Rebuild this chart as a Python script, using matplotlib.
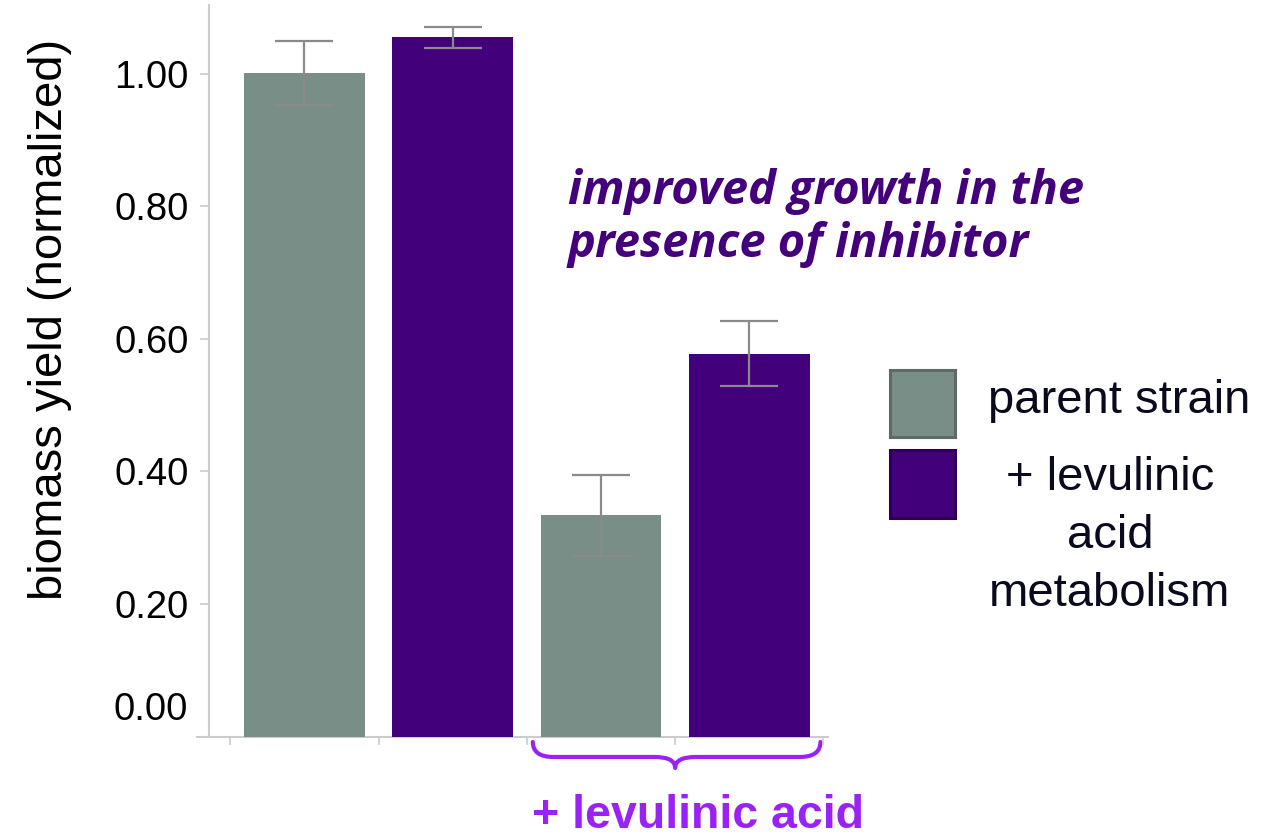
import matplotlib
matplotlib.use("Agg")
import matplotlib.pyplot as plt
from matplotlib.patches import Rectangle, PathPatch
from matplotlib.path import Path
from matplotlib.transforms import blended_transform_factory

plt.rcParams['font.family'] = ['Liberation Sans', 'DejaVu Sans']

# data
groups = ["parent strain", "+ levulinic\nacid\nmetabolism"]
positions = [0, 1, 2, 3]
yields = [1.001, 1.055, 0.334, 0.578]
errors = [0.048, 0.016, 0.061, 0.049]
bar_group = [0, 1, 0, 1]
yticks = [0.2, 0.4, 0.6, 0.8, 1.0]

colors = ['#798e87', '#42007a']
edge_colors = ['#5b6b65', '#2d0058']
W, H = 1276, 839


def px(x, y):
    # figure pixel -> figure fraction
    return x / W, 1 - y / H


fig = plt.figure(figsize=(W / 100, H / 100), dpi=100)
ax = fig.add_axes([209 / W, 1 - 736.5 / H, 619 / W, 731.5 / H])

ax.bar(positions, yields, width=0.815, color=[colors[g] for g in bar_group], zorder=2)
ax.errorbar(positions, yields, yerr=errors, fmt='none', ecolor='#8a8a8a',
            elinewidth=1.6, capsize=21, capthick=1.6, zorder=3)

ax.set_xlim(-0.644, 3.531)
ax.set_ylim(0, 1.104)

ax.set_yticks(yticks)
ax.set_yticklabels([f"{v:.2f}" for v in yticks], fontsize=27.5)
ax.set_xticks([p - 0.5 for p in positions] + [positions[-1] + 0.5])
ax.set_xticklabels([])
ax.tick_params(axis='y', length=6.5, width=1.2, color='#cccccc', pad=8)
ax.tick_params(axis='x', length=6, width=1.2, color='#cccccc')
for s in ['top', 'right']:
    ax.spines[s].set_visible(False)
ax.spines['left'].set_color('#cccccc')
ax.spines['left'].set_linewidth(1.5)
ax.spines['bottom'].set_visible(False)
ax.plot([-0.02, 1.0], [0, 0], transform=ax.transAxes, color='#cccccc',
        lw=1.5, clip_on=False, zorder=1)

# zero label sits a bit above the baseline in the original
ax.text(-0.034, 0.04, "0.00", fontsize=27.5, ha='right', va='center',
        transform=blended_transform_factory(ax.transAxes, ax.transData))

ax.set_ylabel("biomass yield (normalized)", fontsize=34)
ax.yaxis.set_label_coords(-0.222, 0.57)

# annotation
ax.text(1.777, 0.782, "improved growth in the\npresence of inhibitor",
        family='Open Sans', fontweight='bold', style='italic', fontsize=33.8,
        color='#44007c', ha='left', va='center', linespacing=1.17)

# brace under the inhibitor group
bt = blended_transform_factory(ax.transData, ax.transAxes)
x0, x1, xc = 1.54, 3.48, 2.5
r = 0.14
yt, ym, yb = -0.0075, -0.028, -0.043
verts = [(x0, yt), (x0, ym), (x0 + r, ym), (xc - r, ym), (xc, ym), (xc, yb),
         (xc, ym), (xc + r, ym), (x1 - r, ym), (x1, ym), (x1, yt)]
codes = [Path.MOVETO, Path.CURVE3, Path.CURVE3, Path.LINETO, Path.CURVE3, Path.CURVE3,
         Path.CURVE3, Path.CURVE3, Path.LINETO, Path.CURVE3, Path.CURVE3]
ax.add_patch(PathPatch(Path(verts, codes), transform=bt, fill=False,
                       edgecolor='#9b22f7', lw=3, clip_on=False,
                       capstyle='round', joinstyle='round'))
ax.text(2.654, -0.1255, "+ levulinic acid", transform=bt, ha='center', va='baseline',
        fontsize=33.5, fontweight='bold', color='#9b22f7')

# legend drawn by hand to keep the square aligned with the first text line
squares = [(890, 370, 437), (890, 450, 518)]
for (x, ytop, ybot), c, ec in zip(squares, colors, edge_colors):
    (fx, fy) = px(x, ybot)
    fig.add_artist(Rectangle((fx, fy), 65 / W, (ybot - ytop) / H, transform=fig.transFigure,
                             facecolor=c, edgecolor=ec, lw=2.2))
fig.text(*px(988, 401), groups[0], fontsize=34, ha='left', va='center', color='#0a0a1e')
fig.text(*px(1110, 536), groups[1], fontsize=34, ha='center', va='center', color='#0a0a1e',
         multialignment='center', linespacing=1.41)

fig.savefig("out.png", dpi=100)
